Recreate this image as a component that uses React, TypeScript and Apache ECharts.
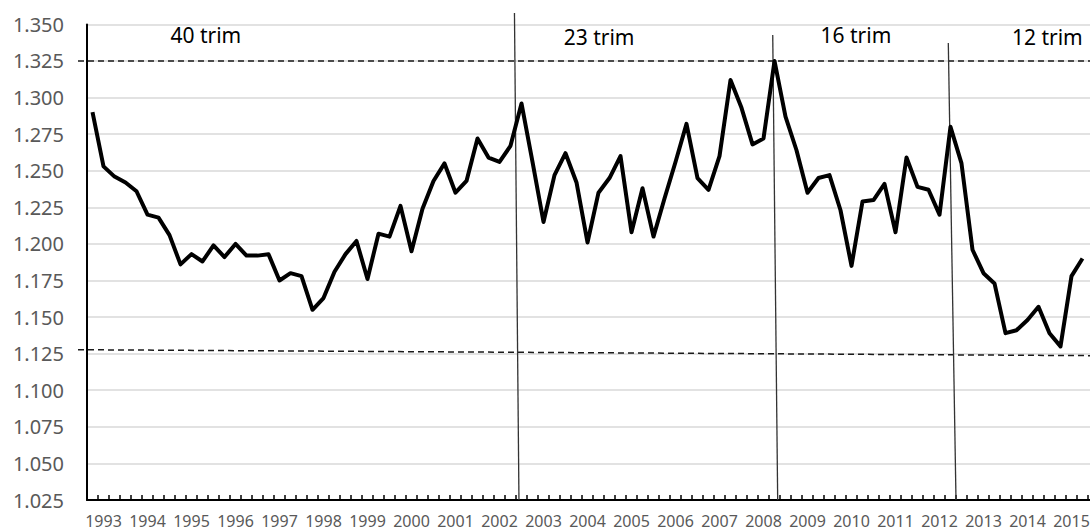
import React, { useEffect, useRef } from "react";
import * as echarts from "echarts";

// ---- data ----
const years = [
  "1993", "1994", "1995", "1996", "1997", "1998", "1999", "2000", "2001", "2002", "2003", "2004",
  "2005", "2006", "2007", "2008", "2009", "2010", "2011", "2012", "2013", "2014", "2015",
];
const quarterNames = ["T1", "T2", "T3", "T4"];
const categories = years.flatMap((y) => quarterNames.map((q) => `${y} ${q}`));

const values = [
  1.290, 1.253, 1.246, 1.242, 1.236, 1.220, 1.218, 1.206, 1.186, 1.193, 1.188, 1.199,
  1.191, 1.200, 1.192, 1.192, 1.193, 1.175, 1.180, 1.178, 1.155, 1.163, 1.181, 1.193,
  1.202, 1.176, 1.207, 1.205, 1.226, 1.195, 1.224, 1.243, 1.255, 1.235, 1.243, 1.272,
  1.259, 1.256, 1.267, 1.296, 1.256, 1.215, 1.247, 1.262, 1.242, 1.201, 1.235, 1.245,
  1.260, 1.208, 1.238, 1.205, 1.231, 1.256, 1.282, 1.245, 1.237, 1.260, 1.312, 1.293,
  1.268, 1.272, 1.325, 1.287, 1.264, 1.235, 1.245, 1.247, 1.223, 1.185, 1.229, 1.230,
  1.241, 1.208, 1.259, 1.239, 1.237, 1.220, 1.280, 1.255, 1.196, 1.180, 1.173, 1.139,
  1.141, 1.148, 1.157, 1.139, 1.130, 1.178, 1.190,
];

const yMin = 1.025;
const yMax = 1.35;
const yStep = 0.025;

// period annotations (category index, value)
const periodLabels = ["40 trim", "23 trim", "16 trim", "12 trim"];
const periodLabelIdx = [10.3, 46.05, 69.4, 86.8];
const periodLabelVal = [1.3428, 1.3414, 1.3428, 1.3414];

// vertical period separators: top (index, value) -> bottom (index, axis min)
const breakTopIdx = [38.36, 61.84, 77.8];
const breakTopVal = [1.3578, 1.3428, 1.3373];
const breakBottomIdx = [38.77, 62.29, 78.5];

// dashed threshold lines: value at left end, value at right end
const thresholdLeft = [1.325, 1.1277];
const thresholdRight = [1.325, 1.1236];

const FONT = "'Noto Sans', 'DejaVu Sans', sans-serif";

export default function App() {
  const ref = useRef<HTMLDivElement>(null);

  useEffect(() => {
    if (!ref.current) return;
    const chart = echarts.init(ref.current, undefined, { renderer: "svg" });

    const option: any = {
      animation: false,
      backgroundColor: "#ffffff",
      grid: { left: 87, top: 24.4, bottom: 32, right: 0, containLabel: false },
      xAxis: {
        type: "category",
        data: categories,
        boundaryGap: true,
        axisLine: { lineStyle: { color: "#000", width: 2 } },
        axisTick: {
          show: true,
          inside: true,
          length: 5,
          interval: 0,
          lineStyle: { color: "#000", width: 1.5 },
        },
        axisLabel: {
          interval: (index: number) => index % 4 === 1,
          formatter: (v: string) => v.slice(0, 4),
          color: "#595959",
          fontSize: 16,
          lineHeight: 16,
          fontFamily: FONT,
          margin: 13,
        },
        splitLine: { show: false },
      },
      yAxis: {
        type: "value",
        min: yMin,
        max: yMax,
        interval: yStep,
        axisLine: { show: true, lineStyle: { color: "#000", width: 2 } },
        axisTick: { show: false },
        axisLabel: {
          formatter: (v: number) => v.toFixed(3),
          color: "#595959",
          fontSize: 20,
          fontFamily: FONT,
          margin: 23,
        },
        splitLine: { show: true, lineStyle: { color: "#d9d9d9", width: 1.5 } },
      },
      series: [
        {
          type: "line",
          data: values,
          symbol: "none",
          lineStyle: { color: "#000", width: 4, join: "round" },
          z: 5,
        },
      ],
    };
    chart.setOption(option);

    const px = (idx: number, v: number) => {
      const i0 = Math.floor(idx);
      const a = chart.convertToPixel({ gridIndex: 0 } as any, [i0, v]) as number[];
      const b = chart.convertToPixel({ gridIndex: 0 } as any, [i0 + 1, v]) as number[];
      return [a[0] + (idx - i0) * (b[0] - a[0]), a[1]];
    };

    const p0 = px(0, yMin);
    const p1 = px(1, yMin);
    const step = p1[0] - p0[0];
    const axisLeft = p0[0] - step / 2;
    const rightEdge = chart.getWidth();

    const graphics: any[] = [];
    thresholdLeft.forEach((vl, i) => {
      const yl = px(0, vl)[1];
      const yr = px(0, thresholdRight[i])[1];
      graphics.push({
        type: "line",
        z: 3,
        shape: { x1: axisLeft - 9, y1: yl, x2: rightEdge, y2: yr },
        style: { stroke: "#1a1a1a", lineWidth: 1.5, lineDash: [6, 4] },
      });
    });
    breakTopIdx.forEach((ti, i) => {
      const top = px(ti, breakTopVal[i]);
      const bot = px(breakBottomIdx[i], yMin);
      graphics.push({
        type: "line",
        z: 4,
        shape: { x1: top[0], y1: top[1], x2: bot[0], y2: bot[1] },
        style: { stroke: "#333333", lineWidth: 1.3 },
      });
    });
    periodLabels.forEach((t, i) => {
      const p = px(periodLabelIdx[i], periodLabelVal[i]);
      graphics.push({
        type: "text",
        z: 6,
        x: p[0],
        y: p[1],
        style: {
          text: t,
          fill: "#000",
          fontSize: 21,
          fontFamily: FONT,
          align: "center",
          verticalAlign: "middle",
        },
      });
    });
    chart.setOption({ graphic: graphics });

    return () => chart.dispose();
  }, []);

  return (
    <div
      style={{
        position: "fixed",
        left: 0,
        top: 0,
        width: 1090,
        height: 532,
        overflow: "hidden",
        background: "#fff",
      }}
    >
      <div ref={ref} style={{ width: 1099, height: 532 }} />
    </div>
  );
}
